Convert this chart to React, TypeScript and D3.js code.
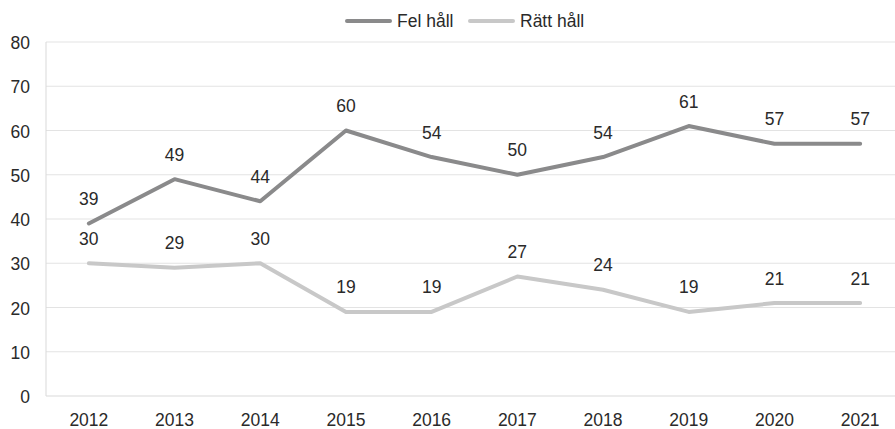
import React, { useEffect, useRef } from "react";
import * as d3 from "d3";

const years = ["2012", "2013", "2014", "2015", "2016", "2017", "2018", "2019", "2020", "2021"];
const felHall = [39, 49, 44, 60, 54, 50, 54, 61, 57, 57];
const rattHall = [30, 29, 30, 19, 19, 27, 24, 19, 21, 21];
const yTicks = [0, 10, 20, 30, 40, 50, 60, 70, 80];

const series = [
  { name: "Fel håll", values: felHall, color: "#8a8a8b" },
  { name: "Rätt håll", values: rattHall, color: "#c8c8c8" },
];

const W = 895;
const H = 429;

export default function App() {
  const ref = useRef<SVGSVGElement>(null);

  useEffect(() => {
    const svg = d3.select(ref.current);
    svg.selectAll("*").remove();

    const left = 46, right = 903, top = 42, bottom = 396;
    const x = d3.scaleBand().domain(years).range([left, right]);
    const y = d3.scaleLinear().domain([0, 80]).range([bottom, top]);
    const font = "Liberation Sans, Arial, sans-serif";
    const fs = 17.5;
    const textColor = "#2a2a2a";

    // grid
    svg.append("g").selectAll("line").data(yTicks.filter(d => d > 0)).enter().append("line")
      .attr("x1", left).attr("x2", W).attr("y1", d => y(d)).attr("y2", d => y(d))
      .attr("stroke", "#e3e3e3").attr("stroke-width", 1);

    // axes lines
    svg.append("line").attr("x1", left).attr("x2", W).attr("y1", bottom).attr("y2", bottom)
      .attr("stroke", "#d9d9d9").attr("stroke-width", 1);
    svg.append("line").attr("x1", left).attr("x2", left).attr("y1", top).attr("y2", bottom)
      .attr("stroke", "#d9d9d9").attr("stroke-width", 1);

    // y labels
    svg.append("g").selectAll("text").data(yTicks).enter().append("text")
      .attr("x", 30).attr("y", d => y(d) + 7)
      .attr("text-anchor", "end").attr("font-family", font).attr("font-size", fs)
      .attr("fill", textColor).text(d => d);

    // x labels
    svg.append("g").selectAll("text").data(years).enter().append("text")
      .attr("x", d => x(d)! + x.bandwidth() / 2).attr("y", 426)
      .attr("text-anchor", "middle").attr("font-family", font).attr("font-size", fs)
      .attr("fill", textColor).text(d => d);

    const line = d3.line<number>()
      .x((_, i) => x(years[i])! + x.bandwidth() / 2)
      .y(d => y(d));

    series.forEach(s => {
      svg.append("path").attr("d", line(s.values)!)
        .attr("fill", "none").attr("stroke", s.color).attr("stroke-width", 4)
        .attr("stroke-linecap", "round").attr("stroke-linejoin", "round");

      // data labels
      svg.append("g").selectAll("text").data(s.values).enter().append("text")
        .attr("x", (_, i) => x(years[i])! + x.bandwidth() / 2)
        .attr("y", d => y(d) - 18.5)
        .attr("text-anchor", "middle").attr("font-family", font).attr("font-size", fs)
        .attr("fill", textColor).text(d => d);
    });

    // legend
    const legendX = [347, 470];
    series.forEach((s, i) => {
      const lg = svg.append("g");
      lg.append("line").attr("x1", legendX[i]).attr("x2", legendX[i] + 43).attr("y1", 21).attr("y2", 21)
        .attr("stroke", s.color).attr("stroke-width", 4).attr("stroke-linecap", "round");
      lg.append("text").attr("x", legendX[i] + 50).attr("y", 27)
        .attr("font-family", font).attr("font-size", fs).attr("fill", textColor).text(s.name);
    });
  }, []);

  return (
    <svg ref={ref} width={W} height={H} style={{ position: "absolute", left: 0, top: 0, background: "#fff" }} />
  );
}
